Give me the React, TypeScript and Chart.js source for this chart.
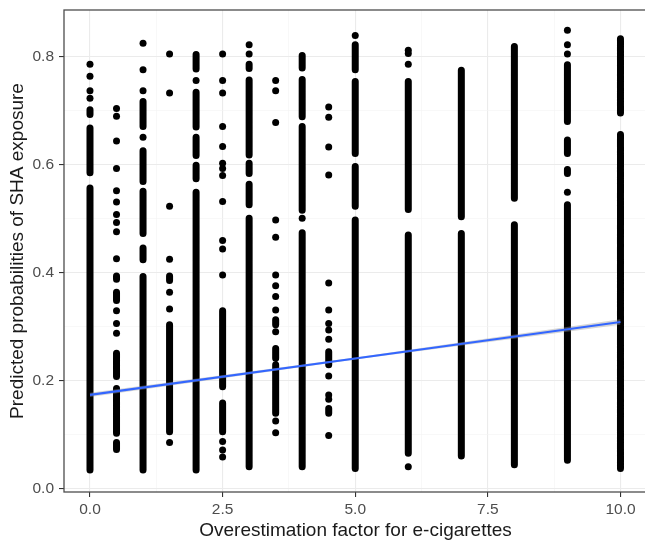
import React, { useEffect, useRef } from "react";
import { Chart, registerables } from "chart.js";

Chart.register(...registerables);

// ---- Axis ticks ----
const X_TICKS = [0, 1.25, 2.5, 3.75, 5, 6.25, 7.5, 8.75, 10];
const X_LABELED = [0, 2.5, 5, 7.5, 10];
const Y_TICKS = [0, 0.1, 0.2, 0.3, 0.4, 0.5, 0.6, 0.7, 0.8];
const Y_LABELED = [0, 0.2, 0.4, 0.6, 0.8];

// ---- Dense runs of overlapping points: [overestimation factor, from prob, to prob] ----
const denseRuns: [number, number, number][] = [
  [0, 0.702, 0.693], [0, 0.668, 0.585], [0, 0.557, 0.035],
  [0.5, 0.394, 0.388], [0.5, 0.364, 0.349], [0.5, 0.251, 0.208], [0.5, 0.186, 0.103], [0.5, 0.086, 0.073],
  [1, 0.717, 0.671], [1, 0.626, 0.569], [1, 0.551, 0.473], [1, 0.446, 0.424], [1, 0.393, 0.035],
  [1.5, 0.394, 0.386], [1.5, 0.304, 0.106],
  [2, 0.804, 0.777], [2, 0.734, 0.670], [2, 0.651, 0.617], [2, 0.599, 0.574], [2, 0.549, 0.035],
  [2.5, 0.330, 0.189], [2.5, 0.159, 0.106],
  [3, 0.786, 0.778], [3, 0.757, 0.618], [3, 0.603, 0.584], [3, 0.564, 0.526], [3, 0.501, 0.041],
  [3.5, 0.313, 0.304], [3.5, 0.260, 0.242], [3.5, 0.230, 0.140],
  [4, 0.802, 0.779], [4, 0.758, 0.689], [4, 0.671, 0.516], [4, 0.474, 0.041],
  [4.5, 0.254, 0.230], [4.5, 0.149, 0.140],
  [5, 0.822, 0.776], [5, 0.754, 0.621], [5, 0.597, 0.523], [5, 0.498, 0.038],
  [6, 0.754, 0.517], [6, 0.470, 0.066],
  [7, 0.775, 0.504], [7, 0.473, 0.061],
  [8, 0.819, 0.538], [8, 0.489, 0.045],
  [9, 0.785, 0.680], [9, 0.646, 0.621], [9, 0.591, 0.584], [9, 0.526, 0.053],
  [10, 0.833, 0.696], [10, 0.656, 0.038],
];

// ---- Isolated points: [overestimation factor, predicted probability] ----
const isolatedPoints: [number, number][] = [
  [0, 0.786], [0, 0.764], [0, 0.737], [0, 0.723],
  [0.5, 0.704], [0.5, 0.690], [0.5, 0.644], [0.5, 0.593], [0.5, 0.552], [0.5, 0.531], [0.5, 0.508],
  [0.5, 0.493], [0.5, 0.476], [0.5, 0.426], [0.5, 0.330], [0.5, 0.306], [0.5, 0.288],
  [1, 0.825], [1, 0.776], [1, 0.737], [1, 0.651],
  [1.5, 0.805], [1.5, 0.733], [1.5, 0.523], [1.5, 0.425], [1.5, 0.364], [1.5, 0.333], [1.5, 0.086],
  [2, 0.756],
  [2.5, 0.805], [2.5, 0.756], [2.5, 0.733], [2.5, 0.671], [2.5, 0.634], [2.5, 0.603], [2.5, 0.593],
  [2.5, 0.580], [2.5, 0.532], [2.5, 0.460], [2.5, 0.444], [2.5, 0.396], [2.5, 0.088], [2.5, 0.072], [2.5, 0.059],
  [3, 0.822], [3, 0.805],
  [3.5, 0.756], [3.5, 0.737], [3.5, 0.678], [3.5, 0.498], [3.5, 0.466], [3.5, 0.396], [3.5, 0.376],
  [3.5, 0.356], [3.5, 0.331], [3.5, 0.291], [3.5, 0.126], [3.5, 0.104],
  [4, 0.501],
  [4.5, 0.707], [4.5, 0.688], [4.5, 0.633], [4.5, 0.581], [4.5, 0.381], [4.5, 0.331], [4.5, 0.306],
  [4.5, 0.294], [4.5, 0.277], [4.5, 0.209], [4.5, 0.174], [4.5, 0.166], [4.5, 0.099],
  [5, 0.839],
  [6, 0.812], [6, 0.806], [6, 0.786], [6, 0.041],
  [9, 0.849], [9, 0.822], [9, 0.805], [9, 0.549],
];

// ---- Linear smooth and its confidence band ----
const fitX = [0, 5, 10];
const fitY = [0.174, 0.2415, 0.309];
const fitUpper = [0.178, 0.2435, 0.314];
const fitLower = [0.170, 0.2395, 0.304];

const near = (list: number[], v: number) => list.some((t) => Math.abs(t - v) < 1e-9);

export default function App() {
  const ref = useRef<HTMLCanvasElement | null>(null);

  useEffect(() => {
    if (!ref.current) return;

    const runData: any[] = [];
    denseRuns.forEach(([x, a, b]) => {
      runData.push({ x, y: a }, { x, y: b }, { x, y: null });
    });

    const borderPlugin = {
      id: "panelBorder",
      afterDraw(chart: any) {
        const { ctx, chartArea: a } = chart;
        ctx.save();
        ctx.strokeStyle = "#4d4d4d";
        ctx.lineWidth = 1.3;
        ctx.strokeRect(a.left, a.top, a.right - a.left, a.bottom - a.top);
        ctx.restore();
      },
    };

    const tickFont = { family: "'Liberation Sans', Arial, sans-serif", size: 15.5 };
    const titleFont = { family: "'Liberation Sans', Arial, sans-serif", size: 19 };

    const chart = new Chart(ref.current, {
      type: "scatter",
      data: {
        datasets: [
          {
            label: "fit",
            data: fitX.map((x, i) => ({ x, y: fitY[i] })),
            showLine: true,
            borderColor: "#3366FF",
            borderWidth: 2.2,
            pointRadius: 0,
            fill: false,
            order: 0,
          } as any,
          {
            label: "upper",
            data: fitX.map((x, i) => ({ x, y: fitUpper[i] })),
            showLine: true,
            borderWidth: 0,
            borderColor: "rgba(0,0,0,0)",
            pointRadius: 0,
            fill: "+1",
            backgroundColor: "rgba(153,153,153,0.4)",
            order: 1,
          },
          {
            label: "lower",
            data: fitX.map((x, i) => ({ x, y: fitLower[i] })),
            showLine: true,
            borderWidth: 0,
            borderColor: "rgba(0,0,0,0)",
            pointRadius: 0,
            fill: false,
            order: 1,
          },
          {
            label: "dense",
            data: runData,
            showLine: true,
            spanGaps: false,
            borderColor: "#000000",
            borderWidth: 7,
            borderCapStyle: "round",
            pointRadius: 0,
            fill: false,
            order: 2,
          } as any,
          {
            label: "points",
            data: isolatedPoints.map(([x, y]) => ({ x, y })),
            backgroundColor: "#000000",
            borderWidth: 0,
            pointRadius: 3.5,
            order: 2,
          },
        ],
      },
      options: {
        animation: false,
        responsive: false,
        maintainAspectRatio: false,
        devicePixelRatio: 1,
        layout: { padding: { top: 10, left: 0, right: 5, bottom: 0 } },
        plugins: { legend: { display: false }, tooltip: { enabled: false } },
        scales: {
          x: {
            type: "linear",
            min: -0.49,
            max: 10.5,
            afterBuildTicks: (scale: any) => {
              scale.ticks = X_TICKS.map((v) => ({ value: v }));
            },
            afterFit: (scale: any) => {
              scale.height = 53;
              scale.paddingLeft = 0;
              scale.paddingRight = 0;
            },
            border: { display: false },
            grid: {
              color: (c: any) => (near(X_LABELED, c.tick?.value) ? "#EBEBEB" : "#F3F3F3"),
              lineWidth: (c: any) => (near(X_LABELED, c.tick?.value) ? 1.1 : 0.6),
              tickColor: (c: any) => (near(X_LABELED, c.tick?.value) ? "#333333" : "rgba(0,0,0,0)"),
              tickWidth: 1.1,
              tickLength: 5,
              drawTicks: true,
            },
            ticks: {
              autoSkip: false,
              maxRotation: 0,
              padding: 3,
              color: "#4D4D4D",
              font: tickFont,
              callback: (v: any) => (near(X_LABELED, Number(v)) ? Number(v).toFixed(1) : ""),
            },
            title: {
              display: true,
              text: "Overestimation factor for e-cigarettes",
              color: "#1A1A1A",
              font: titleFont,
              padding: { top: 0, bottom: 2.5 },
            },
          },
          y: {
            type: "linear",
            min: -0.0056,
            max: 0.8864,
            afterBuildTicks: (scale: any) => {
              scale.ticks = Y_TICKS.map((v) => ({ value: v }));
            },
            afterFit: (scale: any) => {
              scale.width = 64;
              scale.paddingTop = 0;
              scale.paddingBottom = 0;
            },
            border: { display: false },
            grid: {
              color: (c: any) => (near(Y_LABELED, c.tick?.value) ? "#EBEBEB" : "#F3F3F3"),
              lineWidth: (c: any) => (near(Y_LABELED, c.tick?.value) ? 1.1 : 0.6),
              tickColor: (c: any) => (near(Y_LABELED, c.tick?.value) ? "#333333" : "rgba(0,0,0,0)"),
              tickWidth: 1.1,
              tickLength: 5,
              drawTicks: true,
            },
            ticks: {
              autoSkip: false,
              padding: 5,
              color: "#4D4D4D",
              font: tickFont,
              callback: (v: any) => (near(Y_LABELED, Number(v)) ? Number(v).toFixed(1) : ""),
            },
            title: {
              display: true,
              text: "Predicted probabilities of SHA exposure",
              color: "#1A1A1A",
              font: titleFont,
              padding: { top: 6.5, bottom: 0 },
            },
          },
        },
      },
      plugins: [borderPlugin],
    } as any);

    return () => chart.destroy();
  }, []);

  return (
    <div
      style={{
        position: "fixed",
        left: 0,
        top: 0,
        width: 645,
        height: 545,
        overflow: "hidden",
        background: "#ffffff",
      }}
    >
      <canvas ref={ref} width={652} height={545} style={{ display: "block", width: 652, height: 545 }} />
    </div>
  );
}
